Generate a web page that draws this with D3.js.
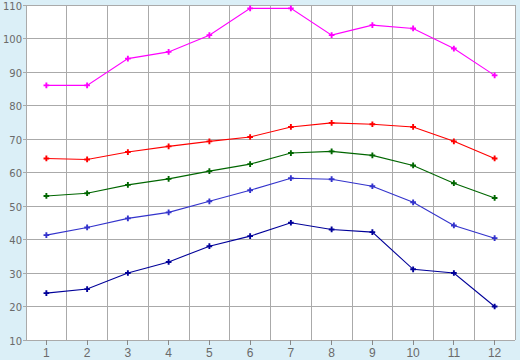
<!DOCTYPE html>
<html><head><meta charset="utf-8">
<script src="https://cdn.jsdelivr.net/npm/d3@7"></script>
<style>html,body{margin:0;padding:0;background:#dbeff7;}svg{display:block;}</style>
</head><body>
<svg id="c" width="520" height="360"></svg>
<script>
const categories = ["1","2","3","4","5","6","7","8","9","10","11","12"];
const yTicks = [10,20,30,40,50,60,70,80,90,100,110];
const magenta = [86, 86, 94, 96, 101, 109, 109, 101, 104, 103, 97, 89];
const red = [64.2, 63.9, 66.1, 67.8, 69.3, 70.6, 73.6, 74.8, 74.4, 73.6, 69.3, 64.2];
const green = [53.0, 53.8, 56.3, 58.1, 60.4, 62.5, 65.8, 66.3, 65.1, 62.1, 56.8, 52.4];
const blue = [41.3, 43.6, 46.3, 48.1, 51.4, 54.7, 58.3, 58.0, 55.9, 51.1, 44.2, 40.4];
const navy = [24, 25.2, 30, 33.3, 38, 41, 45, 43, 42.2, 31.1, 30, 20];

const series = [
  {values: magenta, color: "#ff00ff"},
  {values: red, color: "#ff0000"},
  {values: green, color: "#006600"},
  {values: blue, color: "#3333cc"},
  {values: navy, color: "#000099"}
];

const svg = d3.select("#c");
const L = 26, R = 515, T = 5, B = 340;
const x = d3.scaleBand().domain(categories).range([L, R]);
const y = d3.scaleLinear().domain([10, 110]).range([B, T]);

svg.append("rect").attr("x", L).attr("y", T).attr("width", R - L).attr("height", B - T).attr("fill", "#fff");

const grid = svg.append("g").attr("stroke", "#aaaaaa").attr("stroke-width", 1).attr("shape-rendering", "crispEdges");
yTicks.forEach(t => grid.append("line").attr("x1", L - 3).attr("x2", R).attr("y1", y(t)).attr("y2", y(t)));
const bounds = categories.map(c => x(c)).concat([R]);
bounds.forEach(b => grid.append("line").attr("x1", b).attr("x2", b).attr("y1", T).attr("y2", B));

categories.forEach(c => {
  const cx = x(c) + x.bandwidth() / 2;
  grid.append("line").attr("x1", cx).attr("x2", cx).attr("y1", B).attr("y2", B + 5).attr("stroke", "#888");
});

const ytxt = svg.append("g").attr("font-family", "DejaVu Sans, sans-serif").attr("font-size", 10).attr("fill", "#6a6a6a");
yTicks.forEach(t => ytxt.append("text").attr("x", 22).attr("y", y(t) + 4.5).attr("text-anchor", "end").text(t));
const xtxt = svg.append("g").attr("font-family", "Liberation Sans, Arial, sans-serif").attr("font-size", 12).attr("fill", "#6a6a6a");
categories.forEach(c => xtxt.append("text").attr("x", x(c) + x.bandwidth() / 2).attr("y", 357).attr("text-anchor", "middle").text(c));

const line = d3.line().x((d, i) => x(categories[i]) + x.bandwidth() / 2).y(d => y(d));
const sym = d3.symbol().type(d3.symbolCross).size(18);
series.forEach(s => {
  svg.append("path").attr("d", line(s.values)).attr("fill", "none").attr("stroke", s.color).attr("stroke-width", 1.1);
  svg.append("g").selectAll("path").data(s.values).join("path")
    .attr("transform", (d, i) => `translate(${x(categories[i]) + x.bandwidth() / 2},${y(d)})`)
    .attr("d", sym).attr("fill", s.color);
});
</script>
</body></html>
